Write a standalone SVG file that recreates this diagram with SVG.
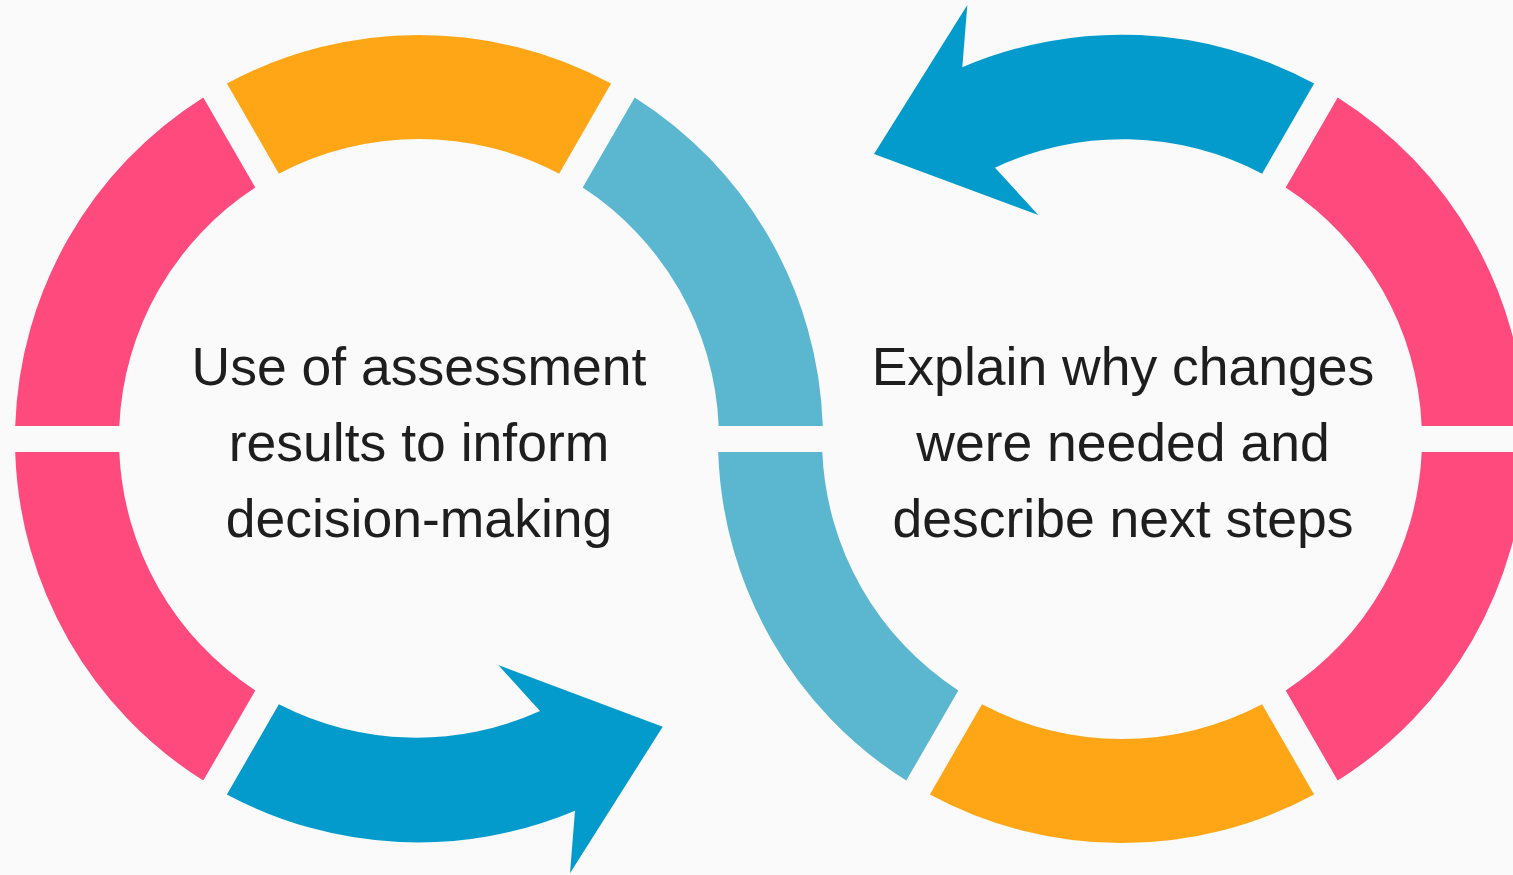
<svg xmlns="http://www.w3.org/2000/svg" width="1513" height="875" viewBox="0 0 1513 875">
  <style>
    .pink { fill: #FF4A7E; }
    .orange { fill: #FFA617; }
    .lblue { fill: #5BB7D0; }
    .dblue { fill: #039BCB; }
    .label { font-family: "Liberation Sans", Arial, sans-serif; font-size: 53.5px; fill: #1E1E1E; text-anchor: middle; }
  </style>
  <rect x="0" y="0" width="1513" height="875" fill="#FAFAFA"/>

  <g id="ring-left">
    <path class="orange" d="M 226.9 83.6 A 404 404 0 0 1 611.1 83.6 L 559.1 173.7 A 300 300 0 0 0 278.9 173.7 Z"/>
    <path class="lblue" d="M 634.7 97.4 A 404 404 0 0 1 822.8 426 L 718.7 426 A 300 300 0 0 0 582.7 187.6 Z"/>
    <path class="pink" d="M 15.2 426 A 404 404 0 0 1 203.3 97.4 L 255.3 187.6 A 300 300 0 0 0 119.3 426 Z"/>
    <path class="pink" d="M 15.2 452 L 119.3 452 A 300 300 0 0 0 255.3 690.4 L 203.3 780.6 A 404 404 0 0 1 15.2 452 Z"/>
  </g>

  <g id="ring-right">
    <path class="pink" d="M 1337.7 97.4 A 404 404 0 0 1 1525.8 426 L 1421.7 426 A 300 300 0 0 0 1285.7 187.6 Z"/>
    <path class="pink" d="M 1525.8 452 A 404 404 0 0 1 1337.7 780.6 L 1285.7 690.4 A 300 300 0 0 0 1421.7 452 Z"/>
    <path class="orange" d="M 1314.1 794.4 A 404 404 0 0 1 929.9 794.4 L 982 704.3 A 300 300 0 0 0 1262.1 704.3 Z"/>
    <path class="lblue" d="M 718.2 452 L 822.3 452 A 300 300 0 0 0 958.3 690.4 L 906.3 780.6 A 404 404 0 0 1 718.2 452 Z"/>
  </g>

  <g id="connectors">
    <path id="arrow-left-bottom" class="dblue" d="M 226.9 794.4 L 278.9 704.3 A 300 300 0 0 0 540 711 L 498.3 665 L 662.7 726.7 L 570 873.3 L 575 810.7 A 404 404 0 0 1 226.9 794.4 Z"/>
    <path id="arrow-right-top" class="dblue" d="M 1314.1 83.6 L 1262.1 173.7 A 300 300 0 0 0 995 167.7 L 1038.3 215 L 874 154 L 967.3 5 L 962.3 67.3 A 404 404 0 0 1 1314.1 83.6 Z"/>
  </g>

  <g id="text-left">
    <text class="label" x="419" y="385">Use of assessment</text>
    <text class="label" x="419" y="461">results to inform</text>
    <text class="label" x="419" y="537">decision-making</text>
  </g>

  <g id="text-right">
    <text class="label" x="1123" y="385">Explain why changes</text>
    <text class="label" x="1123" y="461">were needed and</text>
    <text class="label" x="1123" y="537">describe next steps</text>
  </g>
</svg>
